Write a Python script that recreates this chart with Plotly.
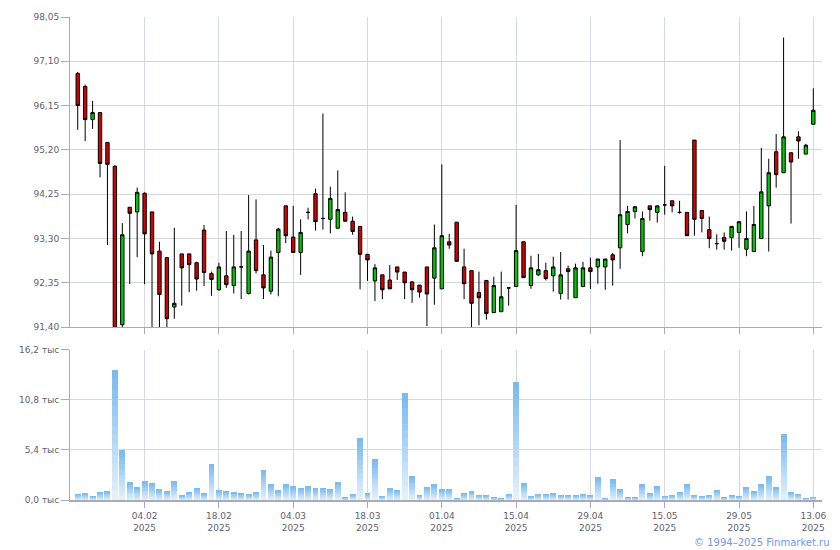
import plotly.graph_objects as go

# ---------------- data ----------------
opens = [96.84, 96.56, 95.85, 96.00, 95.36, 94.85, 91.45, 93.97, 93.87, 94.27,
         93.87, 93.03, 92.89, 91.83, 92.97, 92.97, 92.78, 93.48, 92.55, 92.20,
         92.50, 92.29, 92.69, 92.12, 93.27, 92.52, 92.17, 93.00, 94.00, 93.33,
         93.00, 93.86, 94.26, 93.73, 93.71, 93.52, 93.86, 93.67, 93.56, 92.96,
         92.39, 92.52, 92.41, 92.69, 92.58, 92.37, 92.30, 92.69, 92.45, 92.22,
         93.23, 93.65, 92.69, 92.61, 92.14, 92.40, 91.71, 91.73, 92.24, 92.27,
         93.23, 92.29, 92.52, 92.61, 92.50, 92.12, 92.65, 92.03, 92.27, 92.67,
         92.69, 92.69, 92.95, 93.10, 93.60, 93.88, 93.02, 94.00, 93.86, 94.02,
         94.11, 93.86, 93.86, 95.41, 93.90, 93.49, 93.19, 93.32, 93.32, 93.43,
         93.07, 93.02, 93.30, 94.00, 95.16, 94.71, 95.14, 95.48, 95.11, 95.75]
highs = [96.87, 96.60, 96.25, 96.00, 95.36, 94.87, 93.63, 93.97, 94.39, 94.29,
         93.87, 93.23, 92.89, 93.53, 92.97, 92.97, 92.80, 93.59, 92.59, 92.78,
         93.46, 93.38, 93.46, 94.23, 94.14, 93.16, 93.04, 93.53, 94.00, 94.00,
         93.71, 93.96, 94.37, 95.98, 94.41, 94.76, 94.29, 93.77, 93.56, 92.96,
         92.75, 92.52, 92.73, 92.69, 92.58, 92.37, 92.30, 92.69, 93.60, 94.89,
         93.40, 93.65, 93.08, 92.61, 92.59, 92.40, 92.48, 92.59, 92.25, 94.02,
         93.23, 92.93, 92.97, 92.78, 92.91, 93.01, 92.72, 92.76, 92.80, 92.89,
         92.86, 92.86, 92.99, 95.41, 94.00, 94.00, 93.88, 94.00, 94.00, 94.86,
         94.11, 94.11, 93.86, 95.41, 93.90, 93.77, 93.39, 93.43, 93.56, 93.66,
         93.88, 94.00, 95.24, 95.01, 95.54, 97.61, 95.14, 95.60, 95.33, 96.52]
lows = [95.63, 95.39, 95.65, 94.61, 93.16, 91.20, 91.38, 92.32, 92.90, 92.32,
        91.30, 91.38, 91.40, 91.58, 91.86, 92.15, 92.18, 92.28, 92.07, 92.18,
        92.24, 92.12, 92.00, 92.10, 92.55, 92.00, 92.10, 92.06, 93.20, 93.00,
        92.52, 93.71, 93.47, 93.49, 93.41, 93.52, 93.67, 93.38, 92.21, 92.39,
        91.96, 92.00, 92.22, 92.41, 92.00, 91.92, 92.03, 91.42, 91.88, 92.22,
        93.08, 92.81, 92.00, 91.40, 91.44, 91.56, 91.71, 91.73, 91.86, 92.27,
        92.46, 92.22, 92.50, 92.40, 92.16, 91.99, 91.99, 92.03, 92.27, 92.22,
        92.33, 92.20, 92.29, 92.65, 93.41, 93.73, 92.92, 93.68, 93.64, 93.81,
        93.86, 93.83, 93.36, 93.36, 93.43, 93.09, 93.06, 93.06, 93.04, 93.10,
        92.92, 93.02, 93.30, 93.02, 94.39, 94.71, 93.62, 95.01, 95.11, 95.75]
closes = [96.15, 95.85, 96.00, 94.91, 94.89, 91.30, 93.38, 93.84, 94.29, 93.40,
          92.97, 92.10, 91.58, 91.91, 92.67, 92.74, 92.43, 92.57, 92.42, 92.69,
          92.31, 92.69, 92.69, 93.03, 92.61, 92.24, 92.90, 93.50, 93.36, 93.00,
          93.43, 93.86, 93.66, 93.73, 94.16, 93.92, 93.67, 93.45, 92.96, 92.84,
          92.67, 92.20, 92.22, 92.58, 92.35, 92.20, 92.15, 92.11, 93.10, 93.36,
          93.16, 92.81, 92.33, 91.91, 92.03, 91.69, 92.29, 92.05, 92.24, 93.04,
          92.46, 92.67, 92.63, 92.44, 92.69, 92.52, 92.59, 92.67, 92.67, 92.59,
          92.86, 92.86, 92.84, 93.81, 93.88, 93.98, 93.73, 93.92, 94.00, 94.02,
          94.00, 93.86, 93.36, 93.71, 93.73, 93.30, 93.19, 93.24, 93.56, 93.66,
          93.30, 93.60, 94.30, 94.71, 94.67, 95.48, 94.94, 95.39, 95.30, 96.05]
# volume, thousands
volume = [0.65, 0.76, 0.43, 0.86, 0.97, 14.04, 5.44, 1.94, 1.40, 2.05,
          1.84, 1.19, 0.97, 2.05, 0.54, 0.86, 1.30, 0.76, 3.89, 1.08,
          0.97, 0.86, 0.76, 0.65, 0.86, 3.24, 1.73, 1.08, 1.73, 1.51,
          1.30, 1.51, 1.30, 1.30, 1.19, 1.94, 0.32, 0.65, 6.70, 0.76,
          4.43, 0.43, 1.30, 1.08, 11.56, 2.59, 0.54, 1.40, 1.73, 1.19,
          1.19, 0.22, 0.76, 0.97, 0.54, 0.54, 0.32, 0.22, 0.65, 12.74,
          1.84, 0.43, 0.65, 0.65, 0.76, 0.54, 0.54, 0.54, 0.65, 0.54,
          2.48, 0.22, 2.27, 1.19, 0.32, 0.32, 1.73, 0.76, 1.51, 0.43,
          0.54, 0.86, 1.73, 0.54, 0.43, 0.54, 1.08, 0.32, 0.54, 0.43,
          1.40, 0.97, 1.73, 2.59, 1.40, 7.13, 0.86, 0.65, 0.22, 0.32]

date_labels = ["04.02", "18.02", "04.03", "18.03", "01.04",
               "15.04", "29.04", "15.05", "29.05", "13.06"]
date_label_idx = [9, 19, 29, 39, 49, 59, 69, 79, 89, 99]
year_label = "2025"

price_ticks = [91.40, 92.35, 93.30, 94.25, 95.20, 96.15, 97.10, 98.05]
vol_ticks = [0, 5.4, 10.8, 16.2]
vol_tick_text = ["0,0 тыс", "5,4 тыс", "10,8 тыс", "16,2 тыс"]

idx = list(range(len(opens)))

# ---------------- figure ----------------
AXIS = "#a9a9b9"
GRID = "#d3d9dc"
TXT = "#5f5f6f"
FONT = "DejaVu Sans"

fig = go.Figure()

fig.add_trace(go.Candlestick(
    x=idx, open=opens, high=highs, low=lows, close=closes,
    xaxis="x", yaxis="y",
    increasing=dict(fillcolor="#00c800", line=dict(color="#000000", width=1)),
    decreasing=dict(fillcolor="#d40000", line=dict(color="#000000", width=1)),
    whiskerwidth=0, showlegend=False, hoverinfo="skip",
))

# volume bars with a vertical gradient, built as stacked slices of each bar
N = 14
c_bot = (0xe6, 0xf2, 0xfc)
c_top = (0x76, 0xb9, 0xf0)
for k in range(N):
    t = (k + 0.5) / N
    col = "rgb({},{},{})".format(*[round(b + (a - b) * t) for a, b in zip(c_top, c_bot)])
    fig.add_trace(go.Bar(
        x=idx, y=[v / N for v in volume], xaxis="x2", yaxis="y2",
        marker=dict(color=col, line=dict(width=0)),
        showlegend=False, hoverinfo="skip",
    ))

xr = [-1.04, 100.17]
tick_text = [f"{d}<br>{year_label}" for d in date_labels]

fig.update_layout(
    width=840, height=550,
    margin=dict(l=70, r=18, t=14, b=50),
    paper_bgcolor="white", plot_bgcolor="white",
    separators=", ",
    font=dict(family=FONT, size=9, color=TXT),
    barmode="stack", bargap=0.2, boxgap=0.35,
    xaxis=dict(
        domain=[0, 1], anchor="y", range=xr,
        tickmode="array", tickvals=date_label_idx, showticklabels=False,
        ticks="outside", ticklen=6, tickcolor=AXIS,
        showgrid=True, gridcolor=GRID, gridwidth=1,
        showline=True, linecolor=AXIS, linewidth=1,
        zeroline=False, rangeslider=dict(visible=False),
    ),
    yaxis=dict(
        domain=[0.358, 1], anchor="x", range=[91.40, 98.05],
        tickmode="array", tickvals=price_ticks, tickformat=".2f",
        ticks="outside", ticklen=8, tickcolor=AXIS,
        showgrid=True, gridcolor=GRID, gridwidth=1,
        showline=True, linecolor=AXIS, linewidth=1, zeroline=False,
        tickfont=dict(family=FONT, size=9, color=TXT),
    ),
    xaxis2=dict(
        domain=[0, 1], anchor="y2", range=xr, matches="x",
        tickmode="array", tickvals=date_label_idx, ticktext=tick_text,
        ticks="outside", ticklen=6, tickcolor=AXIS,
        showgrid=True, gridcolor=GRID, gridwidth=1,
        showline=True, linecolor=AXIS, linewidth=2, zeroline=False,
        tickfont=dict(family=FONT, size=9, color=TXT),
    ),
    yaxis2=dict(
        domain=[0, 0.3107], anchor="x2", range=[0, 16.2],
        tickmode="array", tickvals=vol_ticks, ticktext=vol_tick_text,
        ticks="outside", ticklen=8, tickcolor=AXIS,
        showgrid=True, gridcolor=GRID, gridwidth=1,
        showline=True, linecolor=AXIS, linewidth=1, zeroline=False,
        tickfont=dict(family=FONT, size=9, color=TXT),
    ),
    annotations=[dict(
        text="© 1994–2025 Finmarket.ru", xref="paper", yref="paper",
        x=1.0133, y=-0.0885, xanchor="right", yanchor="middle",
        showarrow=False, font=dict(family=FONT, size=10, color="#6f98e8"),
    )],
)

fig.write_html(
    "out.html",
    config={"displayModeBar": False},
    post_script="document.body.style.margin='0';document.body.style.overflow='hidden';",
)
